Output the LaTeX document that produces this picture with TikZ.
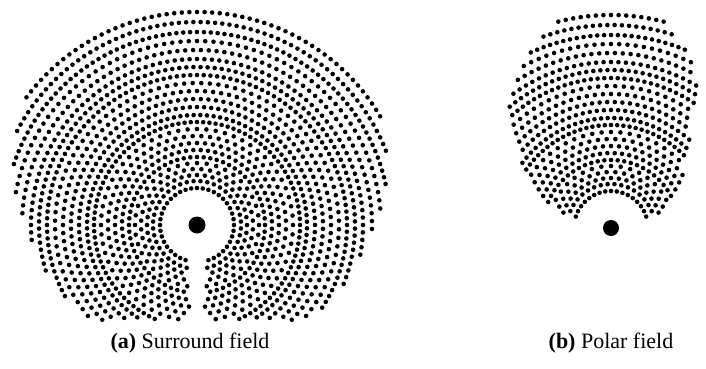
\documentclass[tikz,border=0pt]{standalone}
\usepackage{fontspec}
\setmainfont{Liberation Serif}
\begin{document}
\begin{tikzpicture}[x=1pt,y=-1pt,
  hdot/.style={fill=black},
  tower/.style={fill=black},
  capt/.style={font=\fontsize{22}{26}\selectfont, inner sep=0pt}]
\useasboundingbox (0,0) rectangle (706,369);
% radius / per ring / stagger / surround west, east / polar west, east half-extent (deg from north)
\def\rings{37/40/0/180/180/78/78, 44/40/1/180/180/76/76, 50/40/0/180/180/74/73, 56/40/1/180/180/72/70, 62/40/0/180/180/70/67,
 68/64/0/180/180/68/64, 75/64/1/180/180/66/60, 82/64/0/180/180/63/57, 89/64/1/180/180/61/54, 96/64/0/180/180/59/50,
 103/104/0/180/180/56/48, 110/104/1/180/180/54/45, 118/104/0/180/180/51/42, 126/104/1/180/180/49/39, 134/104/0/180/180/47/37, 142/104/1/180/180/45/35,
 150/140/0/120/125/42/34, 158/140/1/107/112/40/33, 166/140/0/96/101/37/31, 175/140/1/87/92/33/29, 184/140/0/80/85/29/27,
 193/176/0/73/78/25/24, 203/176/1/64/70/20/19, 213/176/0/55/60/15/15}
\foreach \Rr/\Nn/\Sg/\Wa/\Ea/\Wb/\Eb in \rings {
  \pgfmathsetmacro\Dd{360/\Nn}
  \pgfmathtruncatemacro\Kk{\Nn/2}
  \foreach \k in {-\Kk,...,\Kk} {
    \pgfmathsetmacro\Aa{(\k+\Sg/2)*\Dd}
    \pgfmathsetmacro\Xx{\Rr*sin(\Aa)}
    \pgfmathsetmacro\Yy{\Rr*cos(\Aa)}
    \pgfmathtruncatemacro\okA{(-\Aa<=\Wa)&&(\Aa<=\Ea)&&(abs(\Aa)<=180)&&(\Aa>-180)&&(\Yy>=-95)&&((\Yy>0)||(abs(\Xx)>=8))}
    \pgfmathtruncatemacro\okB{(-\Aa<=\Wb)&&(\Aa<=\Eb)}
    \ifnum\okA=1 \fill[hdot] (197+\Xx,225-\Yy) circle (2.3pt);\fi
    \ifnum\okB=1 \fill[hdot] (611+\Xx,228-\Yy) circle (2.3pt);\fi
  }
}
\fill[tower] (197,225) circle (8.5pt);
\fill[tower] (611,228) circle (8pt);
\node[capt, anchor=base] (capA) at (190,348) {\textbf{(a)} Surround field};
\node[capt, anchor=base] (capB) at (611,348) {\textbf{(b)} Polar field};
\end{tikzpicture}
\end{document}
